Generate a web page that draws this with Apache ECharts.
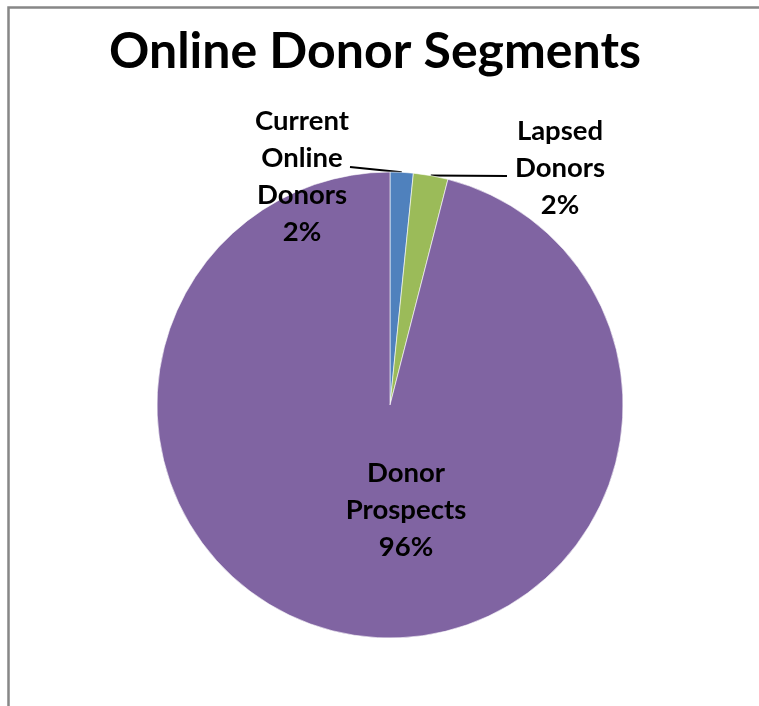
<!DOCTYPE html>
<html>
<head>
<meta charset="utf-8">
<script src="https://cdn.jsdelivr.net/npm/echarts@6/dist/echarts.min.js"></script>
<style>html,body{margin:0;padding:0;background:#fff}#c{width:759px;height:706px}</style>
</head>
<body>
<div id="c"></div>
<script>
var titleText = 'Online Donor Segments';
var categories = ['Current Online Donors', 'Lapsed Donors', 'Donor Prospects'];
var values = [1.6, 2.4, 96.0];
var colors = ['#4F81BD', '#9BBB59', '#8064A2'];

var CX = 390, CY = 405, R = 233;
// label placement offsets relative to pie centre
var labelOffsets = [[-88, -228], [170, -237], [16, 105]];
var lineEnds = [[-40, -238], [117, -229], null];

var chart = echarts.init(document.getElementById('c'));
chart.setOption({
  animation: false,
  backgroundColor: '#fff',
  title: {
    text: titleText,
    left: 370, top: 22, textAlign: 'center',
    textStyle: { fontFamily: 'Lato', fontWeight: 'bold', fontSize: 50, color: '#000' }
  },
  graphic: [{
    type: 'rect', silent: true,
    shape: { x: 8.5, y: 7.5, width: 900, height: 900 },
    style: { fill: 'none', stroke: '#878787', lineWidth: 2.5 }
  }],
  series: [{
    type: 'pie',
    center: [CX, CY],
    radius: R,
    startAngle: 90,
    clockwise: true,
    avoidLabelOverlap: false,
    itemStyle: { borderColor: '#fff', borderWidth: 0.6 },
    label: {
      show: true,
      position: 'outside',
      fontFamily: 'Lato', fontWeight: 'bold', fontSize: 27.5, lineHeight: 37,
      color: '#000', align: 'center',
      formatter: function (p) { return p.name.split(' ').join('\n') + '\n' + Math.round(p.percent) + '%'; }
    },
    labelLine: { show: true, length: 10, length2: 10, lineStyle: { color: '#000', width: 2 } },
    labelLayout: function (p) {
      var i = p.dataIndex;
      var o = labelOffsets[i];
      var res = { x: CX + o[0], y: CY + o[1], align: 'center', verticalAlign: 'middle' };
      if (lineEnds[i] && p.labelLinePoints) {
        var a = p.labelLinePoints[0];
        var e = [CX + lineEnds[i][0], CY + lineEnds[i][1]];
        res.labelLinePoints = [a, e, e];
      }
      return res;
    },
    data: categories.map(function (c, i) {
      var d = { name: c, value: values[i], itemStyle: { color: colors[i] } };
      if (i === 2) { d.labelLine = { show: false }; }
      return d;
    })
  }]
});
</script>
</body>
</html>
